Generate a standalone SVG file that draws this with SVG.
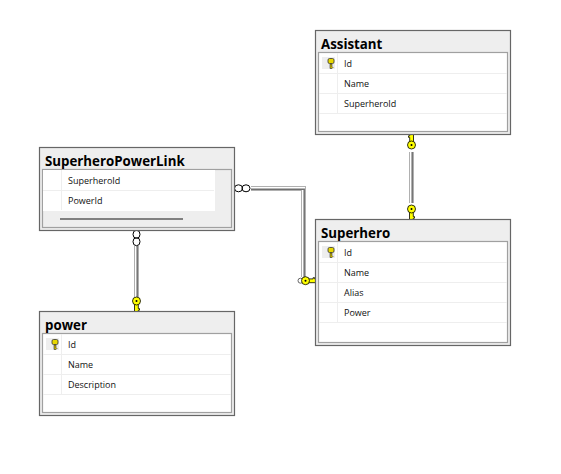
<svg xmlns="http://www.w3.org/2000/svg" width="561" height="474" viewBox="0 0 561 474">
<style>
.outer{fill:#eeeeee;stroke:#666666;stroke-width:1.2}
.inner{fill:#ffffff;stroke:#a0a0a0;stroke-width:1.2}
.sep{stroke:#eeeeee;stroke-width:1;fill:none}
.title{font-family:"Open Sans","Noto Sans",sans-serif;font-weight:700;font-size:13.3px;fill:#000}
.col{font-family:"Open Sans","Noto Sans",sans-serif;font-size:9px;fill:#111}
.pipeA{fill:none;stroke:#b0b0b0;stroke-width:5}
.pipeB{fill:none;stroke:#ffffff;stroke-width:3}
.pipeC{fill:none;stroke:#707070;stroke-width:1.5}
.ring{fill:none;stroke:#000;stroke-width:1}
.key{fill:#ffff00;stroke:#000;stroke-width:.8}
.keycell{fill:#eeeeee}
</style>
<defs>
<g id="bigkey">
<path class="key" d="M-2,3 L-2,10.5 L1.8,10.5 L1.8,9.2 L3,9.2 L3,7.6 L1.8,7.6 L1.8,3 Z"/>
<circle class="key" cx="0" cy="0" r="4"/>
<circle cx="0" cy="0" r="1" fill="#000"/>
</g>
<g id="smallkey">
<path d="M-1,2 L-1,6.5 L1,6.5 L2,5.5 L1,4.5 L1,2 Z" fill="#c8b400" stroke="#333" stroke-width=".6"/>
<rect x="-3" y="-3.5" width="6" height="5" rx="1.5" fill="#e8d800" stroke="#333" stroke-width=".8"/>
</g>
</defs>
<g id="connectors">
<path class="pipeA" d="M411.5,152V203"/>
<path class="pipeB" d="M411.5,152V203"/>
<path class="pipeC" d="M412.2,152V203"/>
<use href="#bigkey" transform="translate(411.5,145) rotate(180)"/>
<use href="#bigkey" transform="translate(411.5,209)"/>
<path class="pipeA" d="M136.5,246V297"/>
<path class="pipeB" d="M136.5,246V297"/>
<path class="pipeC" d="M137.2,246V297"/>
<ellipse class="ring" cx="136.5" cy="234.3" rx="3.5" ry="4"/>
<ellipse class="ring" cx="136.5" cy="241.7" rx="3.5" ry="4"/>
<use href="#bigkey" transform="translate(136.5,301)"/>
<path class="pipeA" d="M251,188.5H303.5V277"/>
<path class="pipeB" d="M251,188.5H303.5V277"/>
<path class="pipeC" d="M251,189.2H304.2V277"/>
<ellipse class="ring" cx="238.5" cy="188.3" rx="4" ry="3.5"/>
<ellipse class="ring" cx="246" cy="188.3" rx="4" ry="3.5"/>
<circle cx="300.5" cy="280.7" r="2.5" fill="#fff" stroke="#666" stroke-width="1"/>
<use href="#bigkey" transform="translate(305.5,280.7) rotate(-90)"/>
</g>
<g id="assistant">
<rect class="outer" x="315.5" y="30.5" width="195" height="104"/>
<rect class="inner" x="318.5" y="52.5" width="189" height="79"/>
<path class="sep" d="M319,73.5H507M319,93.5H507M319,113.5H507M337.5,53V113"/>
<rect class="keycell" x="322" y="57" width="13" height="12"/>
<use href="#smallkey" transform="translate(331,62)"/>
<text class="title" x="321" y="49">Assistant</text>
<text class="col" x="344" y="67">Id</text>
<text class="col" x="344" y="87">Name</text>
<text class="col" x="344" y="107">SuperheroId</text>
</g>
<g id="superheropowerlink">
<rect class="outer" x="39.5" y="147.5" width="195" height="83"/>
<rect class="inner" x="42.5" y="169.5" width="189" height="58" style="fill:#eeeeee"/>
<rect x="43" y="170" width="172" height="41" fill="#ffffff"/>
<path class="sep" d="M43,190.5H214M61.5,170V210"/>
<path d="M60,219H183" stroke="#808080" stroke-width="2" fill="none"/>
<text class="title" x="45" y="166">SuperheroPowerLink</text>
<text class="col" x="68" y="184">SuperheroId</text>
<text class="col" x="68" y="204">PowerId</text>
</g>
<g id="superhero">
<rect class="outer" x="315.5" y="219.5" width="195" height="126"/>
<rect class="inner" x="318.5" y="241.5" width="189" height="101"/>
<path class="sep" d="M319,262.5H507M319,282.5H507M319,302.5H507M319,322.5H507M337.5,242V322"/>
<rect class="keycell" x="322" y="246" width="13" height="12"/>
<use href="#smallkey" transform="translate(331,251)"/>
<text class="title" x="321" y="238">Superhero</text>
<text class="col" x="344" y="256">Id</text>
<text class="col" x="344" y="276">Name</text>
<text class="col" x="344" y="296">Alias</text>
<text class="col" x="344" y="316">Power</text>
</g>
<g id="power">
<rect class="outer" x="39.5" y="311.5" width="195" height="104"/>
<rect class="inner" x="42.5" y="333.5" width="189" height="79"/>
<path class="sep" d="M43,354.5H231M43,374.5H231M43,394.5H231M61.5,334V394"/>
<rect class="keycell" x="46" y="338" width="13" height="12"/>
<use href="#smallkey" transform="translate(55,343)"/>
<text class="title" x="45" y="330">power</text>
<text class="col" x="68" y="348">Id</text>
<text class="col" x="68" y="368">Name</text>
<text class="col" x="68" y="388">Description</text>
</g>
</svg>
